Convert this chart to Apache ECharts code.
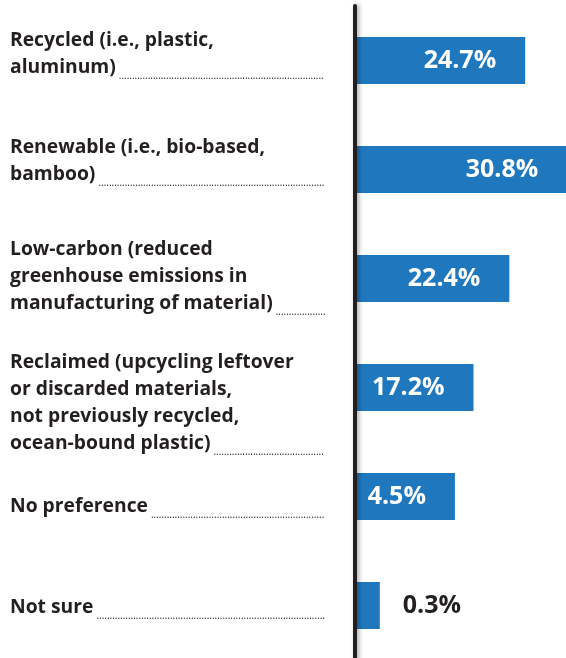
<!DOCTYPE html>
<html><head><meta charset="utf-8">
<script src="https://cdn.jsdelivr.net/npm/echarts@6/dist/echarts.min.js"></script>
<style>html,body{margin:0;padding:0;background:#fff}#c{width:566px;height:658px}</style>
</head><body><div id="c"></div>
<script>
// ---- data ----
const categories = [
  "Recycled (i.e., plastic,\naluminum)",
  "Renewable (i.e., bio-based,\nbamboo)",
  "Low-carbon (reduced\ngreenhouse emissions in\nmanufacturing of material)",
  "Reclaimed (upcycling leftover\nor discarded materials,\nnot previously recycled,\nocean-bound plastic)",
  "No preference",
  "Not sure"
];
const values = [24.7, 30.8, 22.4, 17.2, 4.5, 0.3];          // printed percentages
const barLengths = [24.7, 30.8, 22.4, 17.2, 14.5, 3.6];     // drawn bar lengths

// ---- styles ----
const DARK = '#231f20';
const BLUE = '#1f78be';
const FONT = '"Open Sans", sans-serif';
const LABEL_SIZE = 19.3;
const labelShift = [-6, -8, -2, 16, 10, 2]; // vertical nudge of each category label (px)
const dotsEndX = 327, labelStartX = 10;

const ctx = document.createElement('canvas').getContext('2d');
function textW(t, f){ ctx.font = f; return ctx.measureText(t).width; }
const dotW = textW('.', '10px ' + FONT);

function fmt(value){
  const lines = value.split('\n');
  const last = lines.pop();
  const w = textW(last, 'bold ' + LABEL_SIZE + 'px ' + FONT);
  const n = Math.max(0, Math.floor((dotsEndX - labelStartX - w - 4) / dotW));
  let s = lines.map(l => '{t|' + l + '}').join('\n');
  if (lines.length) s += '\n';
  s += '{t|' + last + '}{d|' + '.'.repeat(n) + '}';
  return s;
}

const chart = echarts.init(document.getElementById('c'));
chart.setOption({
  animation: false,
  backgroundColor: '#fff',
  grid: { left: 355, top: 6, width: 31 * 6.89, height: 654, containLabel: false, outerBoundsMode: 'none' },
  xAxis: { type: 'value', min: 0, max: 31, show: false },
  yAxis: {
    type: 'category', inverse: true, z: 5,
    data: categories.map((c, i) => ({
      value: c,
      textStyle: {
        align: 'left',
        padding: labelShift[i] < 0 ? [0, 0, -2 * labelShift[i], 0] : [2 * labelShift[i], 0, 0, 0]
      }
    })),
    axisLine: { show: true, lineStyle: { color: DARK, width: 4, shadowColor: 'rgba(0,0,0,0.35)', shadowBlur: 4, shadowOffsetX: 2 } },
    axisTick: { show: false },
    splitLine: { show: false },
    axisLabel: {
      align: 'left', margin: 355 - labelStartX,
      hideOverlap: false,
      formatter: fmt,
      rich: {
        t: { fontFamily: FONT, fontWeight: 'bold', fontSize: LABEL_SIZE, lineHeight: 27, color: DARK, align: 'left' },
        d: { fontFamily: FONT, fontSize: 10, color: DARK, verticalAlign: 'bottom', lineHeight: 26, padding: [0, 0, 0, 3], align: 'left' }
      }
    }
  },
  series: [{
    type: 'bar',
    data: barLengths.map((v, i) => i === 5 ? {
      value: v,
      label: { position: 'right', distance: 23, color: DARK }
    } : v),
    barWidth: 47,
    itemStyle: { color: BLUE },
    label: {
      show: true, position: 'insideRight', distance: 29,
      formatter: p => values[p.dataIndex].toFixed(1) + '%',
      color: '#fff', fontFamily: FONT, fontWeight: 'bold', fontSize: 25
    }
  }]
});
</script></body></html>
